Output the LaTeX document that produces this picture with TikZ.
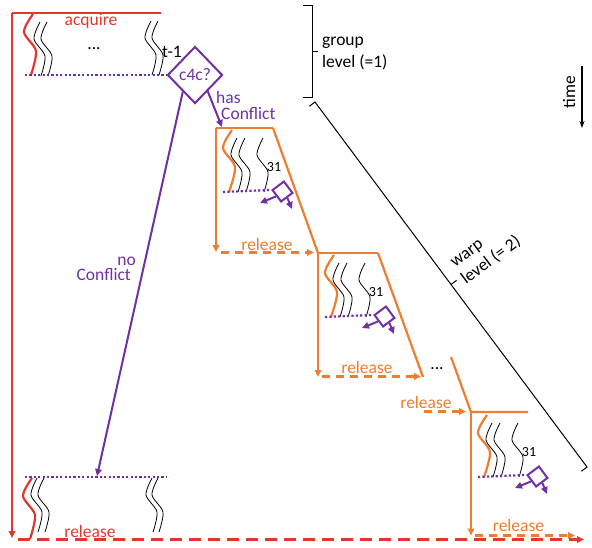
\documentclass[tikz,border=0pt]{standalone}
\usepackage{fontspec}
\setmainfont{Carlito}
\usetikzlibrary{shapes.geometric,arrows.meta}
\definecolor{lockred}{HTML}{E4362C}
\definecolor{warporange}{HTML}{ED7D31}
\definecolor{c4cpurple}{HTML}{7030A0}
\tikzset{
  lbl/.style={font=\fontsize{17.5}{21}\selectfont, inner sep=0pt},
  lblsmall/.style={font=\fontsize{14}{16}\selectfont, inner sep=0pt},
  redline/.style={draw=lockred, line width=2.2pt},
  orangeline/.style={draw=warporange, line width=2.2pt},
  purpleline/.style={draw=c4cpurple, line width=2pt},
  threadline/.style={draw=black, line width=0.8pt},
  braceline/.style={draw=black, line width=1pt},
  headtip/.style={-{Triangle[length=7pt, width=6.5pt]}},
  orangedash/.style={dash pattern=on 8pt off 6pt},
  reddash/.style={dash pattern=on 12pt off 7pt},
  dotline/.style={draw=c4cpurple, line width=2.2pt, dash pattern=on 2.2pt off 2.2pt},
  chkdiamond/.style={diamond, draw=c4cpurple, line width=2pt, minimum size=21pt,
                     inner sep=0pt, rotate=-8},
  wave/.pic={\draw[pic actions] plot[smooth] coordinates {(0,0) (-6,17) (5,34) (1,54)};},
  leadwave/.pic={\draw[pic actions] plot[smooth] coordinates {(0,0) (-9,18) (3,37) (-2,61)};},
  warpblock/.pic={
    \draw[orangeline] plot[smooth] coordinates {(16,2) (7,20) (19,39) (13,64)};
    \foreach \wx in {21,29,47}
      \draw[threadline, shift={(\wx,10)}] plot[smooth] coordinates {(0,0) (-6,17) (5,34) (1,54)};
    \node[lblsmall, anchor=base] (-n) at (58,43) {31};
    \node[chkdiamond] (-k) at (66.5,63.5) {};
    \draw[dotline] (7,64) -- (-k.west);
    \coordinate (-a) at (44,75);
    \coordinate (-b) at (76,81);
    \draw[purpleline, headtip] (-k.south west) -- (-a);
    \draw[purpleline, headtip] (-k.south east) -- (-b);
  },
}

\begin{document}
\begin{tikzpicture}[x=1pt, y=-1pt]
    \useasboundingbox (0,0) rectangle (592,547);

    % group level
    \coordinate (f0) at (12,13);
    \coordinate (f1) at (161,13);
    \coordinate (f2) at (12,538);
    \coordinate (f3) at (18,539.5);
    \coordinate (f4) at (584,539.5);
    \draw[redline] (f1) -- (f0);
    \draw[redline, headtip] (f0) -- (f2);
    \draw[redline, reddash, headtip] (f3) -- (f4);
    \node[lbl, text=lockred, anchor=base] (acq) at (91,25) {acquire};
    \node[lbl, text=lockred, anchor=base] (rel0) at (90,537) {release};

    \pic[redline] at (33,14) {leadwave};
    \pic[threadline] at (40,22) {wave};
    \pic[threadline] at (47,22) {wave};
    \pic[threadline] at (151,21) {wave};
    \pic[threadline] at (158,21) {wave};
    \node[lbl, anchor=base] (dd0) at (94,49) {...};
    \node[lbl, anchor=base] (tm1) at (172,57) {t-1};

    \node[diamond, draw=c4cpurple, line width=2pt, minimum width=55pt, minimum height=57pt,
          inner sep=0pt, text=c4cpurple, font=\fontsize{17.5}{21}\selectfont] (d0) at (195,75) {c4c?};
    \coordinate (s0) at (25,75);
    \draw[dotline] (s0) -- (d0.west);

    \pic[redline] at (32,478) {leadwave};
    \pic[threadline] at (37,478) {wave};
    \pic[threadline] at (44,478) {wave};
    \pic[threadline] at (152,478) {wave};
    \pic[threadline] at (158,478) {wave};
    \coordinate (s1) at (25,477);
    \coordinate (s2) at (166,477);
    \coordinate (nc) at (97,476);
    \draw[dotline] (s1) -- (s2);

    \draw[purpleline, headtip] (d0.-126) -- (nc);
    \node[lbl, text=c4cpurple, anchor=base east] (no1) at (136,265) {no};
    \node[lbl, text=c4cpurple, anchor=base east] (no2) at (131,280) {Conflict};

    \coordinate (hc) at (222,127);
    \draw[purpleline, headtip] (d0.-52) -- (hc);
    \node[lbl, text=c4cpurple, anchor=base west] (has1) at (216,103) {has};
    \node[lbl, text=c4cpurple, anchor=base west] (has2) at (221,119) {Conflict};

    % warp level
    \coordinate (b1) at (216,128);
    \coordinate (b1r) at (273,128);
    \coordinate (b1e) at (216,252);
    \coordinate (b2) at (318,253);
    \coordinate (b2r) at (378,253);
    \coordinate (b2e) at (318,377);
    \coordinate (b3s) at (451,357);
    \coordinate (b3) at (471,412);
    \coordinate (b3r) at (528,412);
    \coordinate (b3e) at (471,535.5);

    \draw[orangeline] (b1r) -- (b1);
    \draw[orangeline, headtip] (b1) -- (b1e);
    \draw[orangeline] (b1r) -- (b2);
    \pic (w1) at (b1) {warpblock};

    \draw[orangeline] (b2r) -- (b2);
    \draw[orangeline, headtip] (b2) -- (b2e);
    \draw[orangeline] (b2r) -- (423,377);
    \pic (w2) at (b2) {warpblock};

    \draw[orangeline] (b3s) -- (b3) -- (b3r);
    \draw[orangeline, headtip] (b3) -- (b3e);
    \pic (w3) at (471,413) {warpblock};

    \coordinate (r1a) at (221,252.5);
    \coordinate (r1b) at (314,252.5);
    \coordinate (r2a) at (322,376.5);
    \coordinate (r2b) at (421,376.5);
    \coordinate (r3a) at (424,411.5);
    \coordinate (r3b) at (466,411.5);
    \coordinate (r4a) at (475,535.5);
    \coordinate (r4b) at (575,535.5);
    \draw[orangeline, orangedash, headtip] (r1a) -- (r1b);
    \draw[orangeline, orangedash, headtip] (r2a) -- (r2b);
    \draw[orangeline, orangedash, headtip] (r3a) -- (r3b);
    \draw[orangeline, orangedash, headtip] (r4a) -- (r4b);
    \node[lbl, text=warporange, anchor=base] (rel1) at (267,250) {release};
    \node[lbl, text=warporange, anchor=base] (rel2) at (367,373) {release};
    \node[lbl, text=warporange, anchor=base] (rel3) at (426,408) {release};
    \node[lbl, text=warporange, anchor=base] (rel4) at (518.5,531.5) {release};
    \node[lbl, anchor=base] (dd1) at (437,369) {...};

    % braces
    \draw[braceline] (303,5) -- (312,5) -- (312,97) -- (303,97);
    \draw[braceline] (312,51) -- (318,51);
    \node[lbl, align=left, anchor=base west, font=\fontsize{17.5}{22}\selectfont] (grp) at (322,67) {group\\level (=1)};

    \draw[braceline] (309.4,106.2) -- (315,102) -- (587,467) -- (581.4,471.2);
    \draw[braceline] (451,284.5) -- (456.6,280.3);
    \node[lbl, anchor=base west, rotate=36.7] (wl1) at (455,268) {warp};
    \node[lbl, anchor=base west, rotate=36.7] (wl2) at (466,285) {level (= 2)};

    % time
    \coordinate (t0) at (582,66);
    \coordinate (t1) at (582,128);
    \draw[line width=1.4pt, -{Stealth[length=7pt, width=5pt]}] (t0) -- (t1);
    \node[lbl, anchor=base, rotate=90] (tm) at (575,92) {time};
  \end{tikzpicture}
\end{document}
